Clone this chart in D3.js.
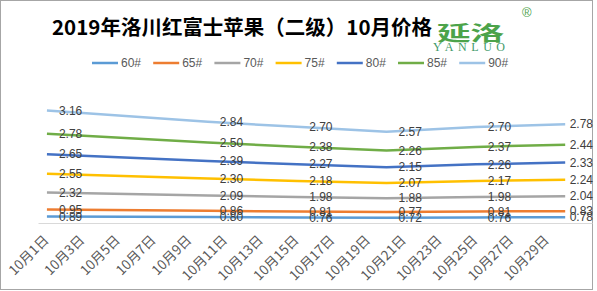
<!DOCTYPE html>
<html>
<head>
<meta charset="utf-8">
<script src="https://cdn.jsdelivr.net/npm/d3@7"></script>
<style>
  html, body { margin: 0; padding: 0; background: #fff; }
  svg { display: block; }
</style>
</head>
<body>
<div id="chart"></div>
<script>
// Stacked line chart: Luochuan Fuji apple prices, October 2019
const CONFIG = {
  width: 597,
  height: 291,
  plot: { left: 38, right: 592, top: 76, bottom: 223 },
  labelFont: '"Liberation Sans", Arial, sans-serif',
  cjkFont: '"Noto Sans CJK SC", "Noto Sans", sans-serif'
};

// data
const days = [1, 10, 15, 20, 25, 30];   // day of October 2019
const seriesNames = ['60#', '65#', '70#', '75#', '80#', '85#', '90#'];
const seriesColors = ['#5B9BD5', '#ED7D31', '#A5A5A5', '#FFC000', '#4472C4', '#70AD47', '#9DC3E6'];
const price60 = [0.89, 0.80, 0.76, 0.72, 0.76, 0.78];
const price65 = [0.95, 0.86, 0.81, 0.77, 0.81, 0.83];
const price70 = [2.32, 2.09, 1.98, 1.88, 1.98, 2.04];
const price75 = [2.55, 2.30, 2.18, 2.07, 2.17, 2.24];
const price80 = [2.65, 2.39, 2.27, 2.15, 2.26, 2.33];
const price85 = [2.78, 2.50, 2.38, 2.26, 2.37, 2.44];
const price90 = [3.16, 2.84, 2.70, 2.57, 2.70, 2.78];
const seriesValues = [price60, price65, price70, price75, price80, price85, price90];
const yDomain = [0, 20];

const rows = days.map((d, i) => {
  const row = { date: new Date(2019, 9, d) };
  seriesNames.forEach((name, s) => { row[name] = seriesValues[s][i]; });
  return row;
});

const svg = d3.select('#chart').append('svg')
  .attr('width', CONFIG.width)
  .attr('height', CONFIG.height);

// outer frame
svg.append('rect')
  .attr('x', 0.5).attr('y', 0.5)
  .attr('width', 592).attr('height', 289)
  .attr('fill', '#fff')
  .attr('stroke', '#A6A6A6');

// title
svg.append('text')
  .attr('x', 52).attr('y', 35)
  .attr('textLength', 380)
  .style('font-family', CONFIG.cjkFont)
  .style('font-size', '20.5px')
  .style('font-weight', 'bold')
  .style('fill', '#000')
  .text('2019年洛川红富士苹果（二级）10月价格');

// logo
const logo = svg.append('g').attr('transform', 'translate(437, 0)');
logo.append('text')
  .attr('transform', 'translate(0, 41) scale(1.6, 0.95)')
  .style('font-family', CONFIG.cjkFont)
  .style('font-size', '21px')
  .style('font-weight', 'bold')
  .style('fill', '#4CA34A')
  .text('延洛');
logo.append('text')
  .attr('x', -4).attr('y', 51)
  .attr('textLength', 72)
  .style('font-family', '"Liberation Serif", serif')
  .style('font-size', '12px')
  .style('fill', '#3F9A6A')
  .text('YANLUO');
logo.append('text')
  .attr('x', 85).attr('y', 17)
  .style('font-family', CONFIG.labelFont)
  .style('font-size', '13px')
  .style('fill', '#4CA34A')
  .text('®');

// scales
const x = d3.scaleTime()
  .domain([new Date(2019, 9, 1), new Date(2019, 10, 1)])
  .range([CONFIG.plot.left, CONFIG.plot.right]);
const mid = d => d3.timeHour.offset(d, 12);   // points sit in the middle of the day slot

const y = d3.scaleLinear()
  .domain(yDomain)
  .range([CONFIG.plot.bottom, CONFIG.plot.top]);

const stacked = d3.stack().keys(seriesNames)(rows);

// x axis
const tickDates = d3.timeDay.range(new Date(2019, 9, 1), new Date(2019, 9, 30), 2);
const xAxis = d3.axisBottom(x)
  .tickValues(tickDates.map(mid))
  .tickSize(0)
  .tickFormat(d3.timeFormat('%-m月%-d日'));

const axisG = svg.append('g')
  .attr('transform', `translate(0, ${CONFIG.plot.bottom})`)
  .call(xAxis);
axisG.select('.domain').attr('stroke', '#D9D9D9').attr('stroke-width', 1);
axisG.selectAll('.tick text')
  .attr('text-anchor', 'end')
  .attr('y', 0).attr('dy', 0)
  .attr('transform', 'translate(2, 18) rotate(-45)')
  .style('font-family', CONFIG.cjkFont)
  .style('font-size', '13.5px')
  .style('fill', '#595959');

// lines
const line = d3.line()
  .x(d => x(mid(d.data.date)))
  .y(d => y(d[1]));

const seriesG = svg.append('g');
stacked.forEach((layer, s) => {
  seriesG.append('path')
    .datum(layer)
    .attr('d', line)
    .attr('fill', 'none')
    .attr('stroke', seriesColors[s])
    .attr('stroke-width', 2.5)
    .attr('stroke-linejoin', 'round');
});

// data labels, to the right of each point
const labelG = svg.append('g');
stacked.forEach((layer, s) => {
  layer.forEach((d, i) => {
    const t = labelG.append('text')
      .attr('y', y(d[1]))
      .attr('dy', '0.35em')
      .style('font-family', CONFIG.labelFont)
      .style('font-size', '12px')
      .style('fill', '#404040')
      .text(seriesValues[s][i].toFixed(2));
    const w = t.node().getComputedTextLength();
    t.attr('x', Math.min(x(mid(d.data.date)) + 12, 593 - w));
  });
});

// legend
const legend = svg.append('g').attr('transform', 'translate(92, 63)');
seriesNames.forEach((name, s) => {
  const item = legend.append('g').attr('transform', `translate(${s * 61.2}, 0)`);
  item.append('line')
    .attr('x1', 0).attr('x2', 26)
    .attr('stroke', seriesColors[s])
    .attr('stroke-width', 2.5);
  item.append('text')
    .attr('x', 29).attr('dy', '0.35em')
    .style('font-family', CONFIG.labelFont)
    .style('font-size', '12px')
    .style('fill', '#595959')
    .text(name);
});
</script>
</body>
</html>
